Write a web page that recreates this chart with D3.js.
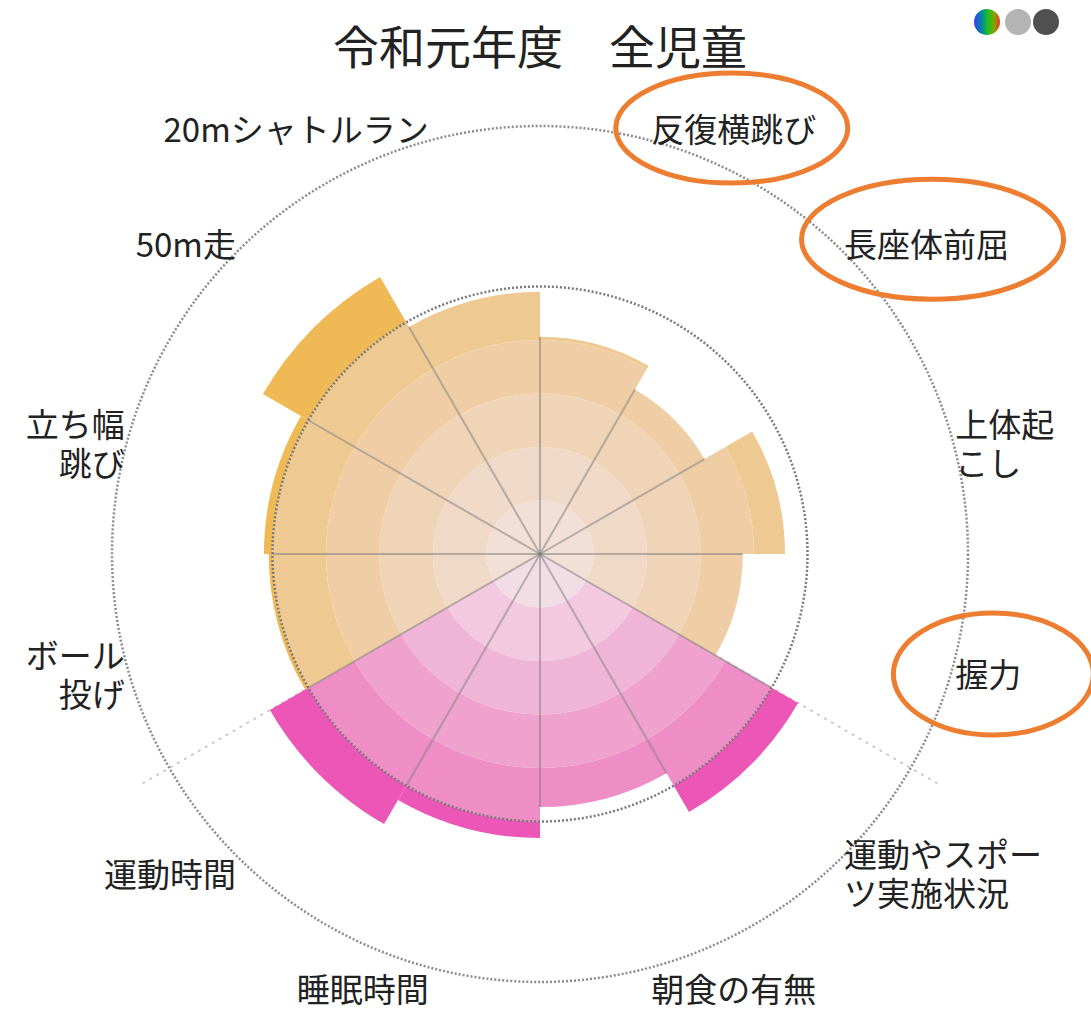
<!DOCTYPE html>
<html>
<head>
<meta charset="utf-8">
<script src="https://cdn.jsdelivr.net/npm/d3@7"></script>
<style>
  html, body { margin: 0; padding: 0; background: #fff; }
  text { font-family: "Noto Sans CJK JP", "Noto Sans", sans-serif; }
</style>
</head>
<body>
<div id="app"></div>
<script>
// chart values, clockwise from 12 o'clock
const categories = [
  ["反復横跳び"], ["長座体前屈"], ["上体起", "こし"], ["握力"],
  ["運動やスポー", "ツ実施状況"], ["朝食の有無"], ["睡眠時間"], ["運動時間"],
  ["ボール", "投げ"], ["立ち幅", "跳び"], ["50m走"], ["20mシャトルラン"]
];
const values = [40.6, 35.5, 45.8, 37.9, 55.7, 47.3, 53.1, 58.3, 50.7, 51.6, 59.8, 49.0];
const groups = ["fit", "fit", "fit", "fit", "life", "life", "life", "life", "fit", "fit", "fit", "fit"];
const ringLevels = [0, 10, 20, 30, 40, 50];
const maxLevel = 80;
const title = "令和元年度　全児童";
const circled = ["反復横跳び", "長座体前屈", "握力"];

const width = 1091;
const height = 1014;
const cx = 540;
const cy = 554;

// colours per band (center -> out), last one is beyond the 50 line
const palette = {
  fit: ["#f2dfd6", "#f1d9c7", "#f0d4b7", "#f0cea5", "#efc992", "#efb955"],
  life: ["#f3dde5", "#f2c9df", "#f0b5d6", "#efa2cd", "#ee8dc6", "#ec56b6"]
};

const svg = d3.select("#app").append("svg")
  .attr("width", width)
  .attr("height", height);

const r = d3.scaleLinear().domain([0, maxLevel]).range([0, 428]);
const step = (2 * Math.PI) / categories.length;

const g = svg.append("g").attr("transform", `translate(${cx},${cy})`);

// dashed separators between the two groups (under the sectors)
const sepIdx = [];
groups.forEach((d, i) => {
  const prev = groups[(i - 1 + groups.length) % groups.length];
  if (prev !== d) sepIdx.push(i);
});
sepIdx.forEach((i) => {
  const a = i * step;
  g.append("line")
    .attr("x1", 0).attr("y1", 0)
    .attr("x2", r(86.4) * Math.sin(a))
    .attr("y2", -r(86.4) * Math.cos(a))
    .attr("stroke", "#c8c8c8")
    .attr("stroke-width", 2)
    .attr("stroke-dasharray", "3,5");
});

// sectors, drawn band by band
const arc = d3.arc();
values.forEach((v, i) => {
  const cols = palette[groups[i]];
  for (let b = 0; b < ringLevels.length - 1; b++) {
    const inner = ringLevels[b];
    const outer = Math.min(v, ringLevels[b + 1]);
    if (outer <= inner) continue;
    g.append("path")
      .attr("d", arc({
        innerRadius: r(inner), outerRadius: r(outer),
        startAngle: i * step, endAngle: (i + 1) * step
      }))
      .attr("fill", cols[b]);
  }
  const top = ringLevels[ringLevels.length - 1];
  if (v > top) {
    g.append("path")
      .attr("d", arc({
        innerRadius: r(top), outerRadius: r(v),
        startAngle: i * step, endAngle: (i + 1) * step
      }))
      .attr("fill", cols[cols.length - 1]);
  }
});

// spokes
const top50 = ringLevels[ringLevels.length - 1];
values.forEach((v, i) => {
  const prev = values[(i - 1 + values.length) % values.length];
  const len = sepIdx.includes(i)
    ? Math.min(Math.max(v, prev), top50)
    : Math.min(v, prev, top50);
  const a = i * step;
  g.append("line")
    .attr("x1", 0).attr("y1", 0)
    .attr("x2", r(len) * Math.sin(a))
    .attr("y2", -r(len) * Math.cos(a))
    .attr("stroke", "rgba(120,120,120,0.5)")
    .attr("stroke-width", 2);
});

// dotted reference circles
g.append("circle")
  .attr("r", r(top50))
  .attr("fill", "none")
  .attr("stroke", "#7a7a7a")
  .attr("stroke-width", 2.5)
  .attr("stroke-dasharray", "2,2");
g.append("circle")
  .attr("r", r(maxLevel))
  .attr("fill", "none")
  .attr("stroke", "#8c8c8c")
  .attr("stroke-width", 2.5)
  .attr("stroke-dasharray", "2,2");

// point labels
const labelR = r(maxLevel) + 2;
const lineH = 39;
const labels = svg.append("g");
categories.forEach((lines, i) => {
  const a = (i + 0.5) * step;
  const s = Math.sin(a);
  const x = cx + labelR * s;
  const y = cy + 6 - (labelR + 15) * Math.cos(a);
  const t = labels.append("text")
    .attr("class", "plabel")
    .attr("data-name", lines.join(""))
    .attr("text-anchor", s > 0.01 ? "start" : s < -0.01 ? "end" : "middle")
    .attr("font-size", 33)
    .attr("fill", "#222");
  lines.forEach((ln, k) => {
    t.append("tspan")
      .attr("x", x)
      .attr("y", y - ((lines.length - 1) * lineH) / 2 + k * lineH)
      .attr("dy", "0.36em")
      .text(ln);
  });
});

// orange hand-drawn style rings around some labels
const ringSize = { "反復横跳び": [116, 55, -2, 0], "長座体前屈": [131, 60, 6, -4], "握力": [100, 61, 5, 1] };
labels.selectAll("text.plabel").each(function () {
  const name = this.getAttribute("data-name");
  if (!circled.includes(name)) return;
  const bb = this.getBBox();
  const [rx, ry, ox, oy] = ringSize[name];
  svg.append("ellipse")
    .attr("cx", bb.x + bb.width / 2 + ox)
    .attr("cy", bb.y + bb.height / 2 + oy)
    .attr("rx", rx)
    .attr("ry", ry)
    .attr("fill", "none")
    .attr("stroke", "#ed7d31")
    .attr("stroke-width", 5);
});

// title
svg.append("text")
  .attr("x", cx)
  .attr("y", 64)
  .attr("text-anchor", "middle")
  .attr("font-size", 46)
  .attr("fill", "#222")
  .text(title);

// small colour switch icons top right
const defs = svg.append("defs");
const grad = defs.append("linearGradient").attr("id", "rgb")
  .attr("x1", "0%").attr("x2", "100%").attr("y1", "0%").attr("y2", "0%");
[["0%", "#3a3aff"], ["30%", "#008a9a"], ["55%", "#22c022"], ["80%", "#8aa000"], ["100%", "#ff2a2a"]]
  .forEach(([o, c]) => grad.append("stop").attr("offset", o).attr("stop-color", c));
const icons = [["url(#rgb)", 987], ["#b4b4b4", 1018], ["#505050", 1046]];
icons.forEach(([fill, x]) => {
  svg.append("circle")
    .attr("cx", x).attr("cy", 22).attr("r", 13)
    .attr("fill", fill);
});
</script>
</body>
</html>
